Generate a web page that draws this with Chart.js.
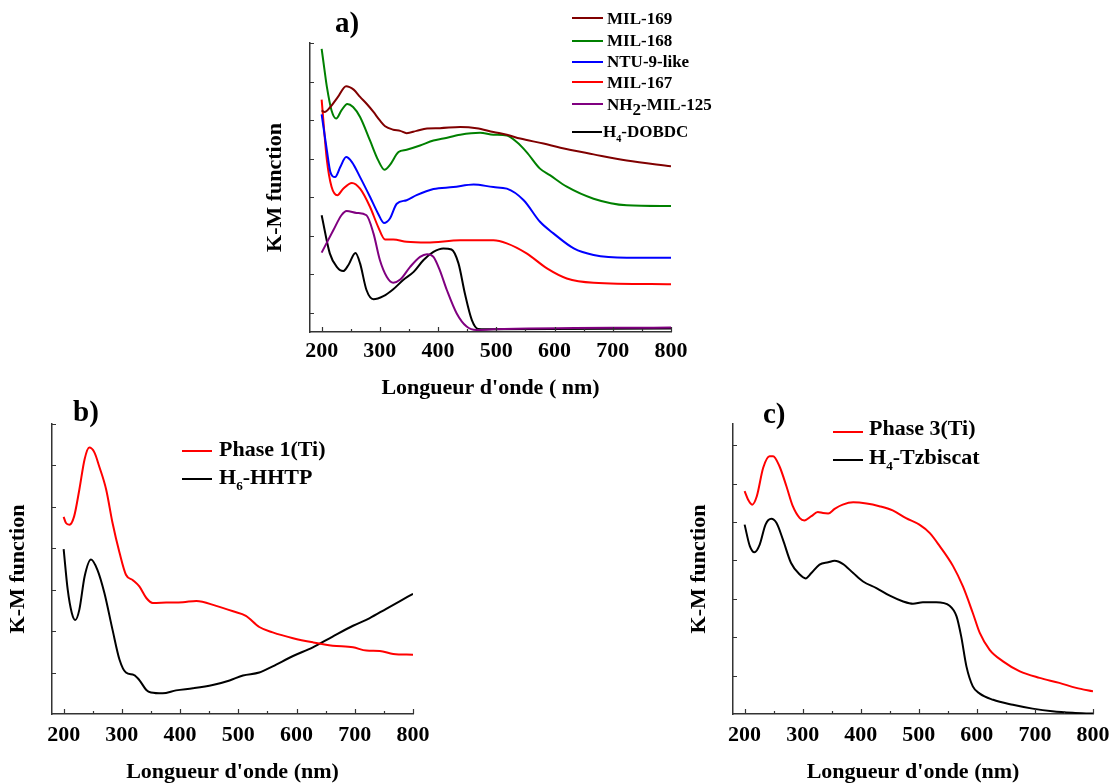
<!DOCTYPE html>
<html>
<head>
<meta charset="utf-8">
<script src="https://cdn.jsdelivr.net/npm/chart.js@4.4.1/dist/chart.umd.min.js"></script>
<style>
  body { margin: 0; width: 1111px; height: 783px; background: #fff; position: relative; overflow: hidden;
         font-family: "Liberation Serif", "Times New Roman", serif; font-weight: bold; color: #000; }
  canvas { position: absolute; }
  .txt { position: absolute; line-height: 1; white-space: nowrap; }
  .key { position: absolute; height: 2px; }
  sub { font-size: 0.6em; vertical-align: -0.45em; line-height: 0; }
</style>
</head>
<body>
<canvas id="chartA" width="440" height="400" style="left:250px;top:0"></canvas>
<canvas id="chartB" width="440" height="393" style="left:0;top:390px"></canvas>
<canvas id="chartC" width="431" height="393" style="left:680px;top:390px"></canvas>

<!-- panel letters -->
<div class="txt" style="font-size:29px;left:335px;top:8px">a)</div>
<div class="txt" style="font-size:29px;left:73px;top:397px">b)</div>
<div class="txt" style="font-size:29px;left:763px;top:399px">c)</div>

<!-- legend a -->
<div class="key" style="left:572px;top:17px;width:31px;background:#800000"></div>
<div class="txt" style="font-size:17px;left:607px;top:10px">MIL-169</div>
<div class="key" style="left:572px;top:40px;width:31px;background:#008000"></div>
<div class="txt" style="font-size:17px;left:607px;top:32px">MIL-168</div>
<div class="key" style="left:572px;top:61px;width:31px;background:#0000ff"></div>
<div class="txt" style="font-size:17px;left:607px;top:53px">NTU-9-like</div>
<div class="key" style="left:572px;top:81px;width:31px;background:#ff0000"></div>
<div class="txt" style="font-size:17px;left:607px;top:74px">MIL-167</div>
<div class="key" style="left:572px;top:103px;width:31px;background:#800080"></div>
<div class="txt" style="font-size:17px;left:607px;top:96px">NH<sub style="font-size:1em;vertical-align:-5px">2</sub>-MIL-125</div>
<div class="key" style="left:572px;top:131px;width:30px;background:#000"></div>
<div class="txt" style="font-size:17px;left:603px;top:123px">H<sub>4</sub>-DOBDC</div>

<!-- legend b -->
<div class="key" style="left:182px;top:450px;width:30px;background:#ff0000"></div>
<div class="txt" style="font-size:22px;left:219px;top:438px">Phase 1(Ti)</div>
<div class="key" style="left:182px;top:478px;width:30px;background:#000"></div>
<div class="txt" style="font-size:22px;left:219px;top:466px">H<sub>6</sub>-HHTP</div>

<!-- legend c -->
<div class="key" style="left:833px;top:431px;width:30px;background:#ff0000"></div>
<div class="txt" style="font-size:22px;left:869px;top:417px">Phase 3(Ti)</div>
<div class="key" style="left:833px;top:459px;width:30px;background:#000"></div>
<div class="txt" style="font-size:22px;left:869px;top:446px">H<sub>4</sub>-Tzbiscat</div>

<script>
// tick values shared by the three panels
const xTicks = [200, 300, 400, 500, 600, 700, 800];
const xMinor = [250, 350, 450, 550, 650, 750];
const yTicksA = [0, 1, 2, 3, 4, 5, 6, 7];
const yTicksB = [1, 2, 3, 4, 5, 6, 7];
const yTicksC = [1, 2, 3, 4, 5, 6, 7];

// panel a) - offset curves
const waveA169 = [200, 205, 215, 228, 242, 255, 266, 278, 289, 300, 309, 323, 335, 346, 363, 381, 403, 438, 466, 495, 518, 541, 581, 610, 667, 724, 800];
const kmA169 = [5.25, 5.21, 5.34, 5.60, 5.88, 5.79, 5.60, 5.41, 5.21, 4.99, 4.84, 4.75, 4.72, 4.66, 4.72, 4.78, 4.79, 4.82, 4.79, 4.69, 4.62, 4.52, 4.39, 4.28, 4.11, 3.95, 3.80];

const waveA168 = [200, 205, 209, 217, 225, 234, 244, 254, 266, 283, 297, 308, 317, 332, 346, 369, 392, 409, 438, 472, 495, 518, 535, 552, 575, 592, 621, 667, 724, 800];
const kmA168 = [6.85, 6.29, 5.86, 5.25, 5.04, 5.25, 5.42, 5.34, 5.08, 4.47, 3.96, 3.71, 3.83, 4.17, 4.23, 4.34, 4.47, 4.52, 4.62, 4.67, 4.62, 4.60, 4.43, 4.17, 3.74, 3.57, 3.27, 2.96, 2.79, 2.77];

const waveNtu = [200, 209, 215, 223, 232, 242, 252, 266, 283, 297, 307, 317, 329, 346, 363, 392, 426, 461, 495, 518, 547, 575, 598, 633, 667, 724, 800];
const kmNtu = [5.15, 4.21, 3.65, 3.52, 3.78, 4.04, 3.91, 3.52, 3.01, 2.57, 2.33, 2.44, 2.83, 2.92, 3.05, 3.21, 3.26, 3.33, 3.26, 3.22, 2.92, 2.36, 2.06, 1.67, 1.50, 1.43, 1.43];

const waveA167 = [200, 209, 217, 227, 237, 252, 266, 283, 297, 309, 323, 346, 381, 438, 495, 518, 552, 587, 621, 667, 800];
const kmA167 = [5.53, 3.96, 3.27, 3.05, 3.22, 3.37, 3.22, 2.75, 2.23, 1.90, 1.90, 1.84, 1.82, 1.88, 1.88, 1.80, 1.54, 1.15, 0.89, 0.78, 0.74];

const waveNh2 = [200, 220, 234, 243, 260, 277, 289, 300, 312, 323, 335, 352, 369, 381, 392, 403, 415, 432, 449, 466, 495, 800];
const kmNh2 = [1.56, 2.14, 2.53, 2.64, 2.59, 2.53, 2.06, 1.37, 0.93, 0.78, 0.86, 1.19, 1.45, 1.52, 1.45, 1.10, 0.59, -0.02, -0.36, -0.45, -0.43, -0.38];

const waveDobdc = [200, 214, 226, 237, 246, 258, 266, 277, 289, 306, 323, 340, 358, 375, 392, 409, 423, 435, 446, 458, 469, 495, 800];
const kmDobdc = [2.53, 1.54, 1.19, 1.08, 1.24, 1.55, 1.28, 0.59, 0.35, 0.43, 0.61, 0.85, 1.06, 1.37, 1.58, 1.67, 1.64, 1.28, 0.50, -0.19, -0.42, -0.43, -0.41];

// panel b)
const wavePhase1 = [200, 204, 210, 218, 227, 236, 244, 253, 261, 273, 284, 296, 307, 319, 330, 342, 353, 376, 405, 428, 462, 491, 513, 536, 559, 594, 628, 662, 697, 720, 743, 766, 800];
const kmPhase1 = [4.76, 4.61, 4.57, 4.77, 5.42, 6.15, 6.43, 6.31, 5.98, 5.42, 4.61, 3.89, 3.36, 3.23, 3.08, 2.80, 2.68, 2.69, 2.70, 2.73, 2.61, 2.48, 2.37, 2.10, 1.97, 1.83, 1.73, 1.65, 1.61, 1.53, 1.52, 1.45, 1.43];

const waveHhtp = [200, 207, 214, 220, 227, 236, 247, 258, 270, 284, 296, 307, 321, 330, 342, 350, 370, 393, 422, 456, 485, 508, 536, 559, 594, 628, 662, 697, 725, 754, 777, 800];
const kmHhtp = [3.98, 3.00, 2.44, 2.27, 2.52, 3.32, 3.73, 3.48, 2.92, 2.03, 1.31, 1.00, 0.94, 0.82, 0.58, 0.52, 0.50, 0.57, 0.62, 0.70, 0.81, 0.93, 1.00, 1.15, 1.40, 1.61, 1.87, 2.13, 2.31, 2.54, 2.72, 2.90];

// panel c)
const wavePhase3 = [200, 206, 213, 221, 232, 243, 249, 260, 272, 283, 295, 303, 315, 326, 335, 344, 355, 369, 387, 410, 432, 455, 478, 501, 519, 536, 559, 576, 593, 605, 622, 645, 674, 708, 742, 771, 800];
const kmPhase3 = [5.80, 5.58, 5.45, 5.67, 6.41, 6.71, 6.71, 6.45, 5.93, 5.41, 5.10, 5.04, 5.15, 5.26, 5.23, 5.22, 5.34, 5.45, 5.51, 5.48, 5.41, 5.30, 5.10, 4.93, 4.71, 4.37, 3.85, 3.32, 2.63, 2.11, 1.67, 1.37, 1.11, 0.94, 0.81, 0.68, 0.59];

const waveTzb = [200, 209, 217, 226, 236, 246, 255, 266, 280, 295, 305, 315, 329, 344, 355, 369, 387, 404, 427, 450, 473, 490, 507, 530, 553, 565, 573, 582, 593, 605, 628, 662, 696, 730, 765, 800];
const kmTzb = [4.93, 4.37, 4.21, 4.41, 4.93, 5.08, 4.97, 4.54, 3.93, 3.63, 3.53, 3.67, 3.89, 3.95, 3.99, 3.91, 3.67, 3.45, 3.28, 3.08, 2.93, 2.87, 2.91, 2.91, 2.82, 2.54, 2.02, 1.24, 0.72, 0.53, 0.37, 0.24, 0.14, 0.07, 0.03, 0.01];

const serif = "'Liberation Serif', 'Times New Roman', serif";
const axisColor = '#333';

function pts(xs, ys) {
    return xs.map((x, i) => ({ x: x, y: ys[i] }));
}

function curve(label, xs, ys, color) {
    return {
        label: label,
        data: pts(xs, ys),
        borderColor: color,
        borderWidth: 2,
        pointRadius: 0,
        fill: false,
        cubicInterpolationMode: 'monotone'
    };
}

// small tick marks pointing into the plot, like the original software draws them
const innerTicks = {
    id: 'innerTicks',
    afterDraw(chart, args, opts) {
        const ctx = chart.ctx;
        const xs = chart.scales.x, ys = chart.scales.y;
        const area = chart.chartArea;
        ctx.save();
        ctx.strokeStyle = axisColor;
        ctx.lineWidth = 1.2;
        ctx.beginPath();
        xTicks.forEach(v => {
            const px = Math.round(xs.getPixelForValue(v)) + 0.5;
            ctx.moveTo(px, area.bottom);
            ctx.lineTo(px, area.bottom - 5);
        });
        xMinor.forEach(v => {
            const px = Math.round(xs.getPixelForValue(v)) + 0.5;
            ctx.moveTo(px, area.bottom);
            ctx.lineTo(px, area.bottom - 3);
        });
        opts.yTicks.forEach(v => {
            const py = Math.round(ys.getPixelForValue(v)) + 0.5;
            ctx.moveTo(area.left, py);
            ctx.lineTo(area.left + 4, py);
        });
        ctx.stroke();
        ctx.restore();
    }
};

function makeChart(id, datasets, cfg) {
    const font = { family: serif, size: 22, weight: 'bold', lineHeight: 1 };
    // tick labels are pushed down with lineHeight (padding would also widen the side margins)
    const tickFont = { family: serif, size: 22, weight: 'bold', lineHeight: cfg.tickLine };
    return new Chart(document.getElementById(id), {
        type: 'line',
        data: { datasets: datasets },
        plugins: [innerTicks],
        options: {
            responsive: false,
            animation: false,
            devicePixelRatio: 1,
            events: [],
            layout: { padding: cfg.padding },
            plugins: {
                legend: { display: false },
                tooltip: { enabled: false },
                innerTicks: { yTicks: cfg.yTicks }
            },
            scales: {
                x: {
                    type: 'linear',
                    min: 180,
                    max: 800,
                    afterBuildTicks: s => { s.ticks = xTicks.map(v => ({ value: v })); },
                    afterFit: s => { s.height = cfg.xHeight; },
                    grid: { display: false, drawTicks: false },
                    border: { display: true, color: axisColor, width: 1.5 },
                    ticks: { color: '#000', padding: 0, autoSkip: false, maxRotation: 0, font: tickFont },
                    title: { display: true, text: cfg.xTitle, color: '#000', padding: { top: 0, bottom: cfg.xTitlePad }, font: font }
                },
                y: {
                    min: cfg.yMin,
                    max: cfg.yMax,
                    afterFit: s => { s.width = cfg.yWidth; },
                    grid: { display: false, drawTicks: false },
                    border: { display: true, color: axisColor, width: 1.5 },
                    ticks: { display: false },
                    title: { display: true, text: 'K-M function', color: '#000', padding: { top: cfg.yTitlePad, bottom: 0 }, font: font }
                }
            }
        }
    });
}

makeChart('chartA', [
    curve('MIL-169', waveA169, kmA169, '#800000'),
    curve('MIL-168', waveA168, kmA168, '#008000'),
    curve('NTU-9-like', waveNtu, kmNtu, '#0000ff'),
    curve('MIL-167', waveA167, kmA167, '#ff0000'),
    curve('NH2-MIL-125', waveNh2, kmNh2, '#800080'),
    curve('H4-DOBDC', waveDobdc, kmDobdc, '#000000')
], {
    padding: { top: 43, right: 19, bottom: 0, left: 0 },
    yMin: -0.5, yMax: 7, yTicks: yTicksA,
    yWidth: 60, xHeight: 68, tickLine: 1.79, xTitlePad: 1, yTitlePad: 14,
    xTitle: "Longueur d'onde ( nm)"
});

makeChart('chartB', [
    curve('Phase 1(Ti)', wavePhase1, kmPhase1, '#ff0000'),
    curve('H6-HHTP', waveHhtp, kmHhtp, '#000000')
], {
    padding: { top: 34, right: 27, bottom: 0, left: 0 },
    yMin: 0, yMax: 7, yTicks: yTicksB,
    yWidth: 52, xHeight: 69, tickLine: 1.91, xTitlePad: 0, yTitlePad: 7,
    xTitle: "Longueur d'onde (nm)"
});

makeChart('chartC', [
    curve('Phase 3(Ti)', wavePhase3, kmPhase3, '#ff0000'),
    curve('H4-Tzbiscat', waveTzb, kmTzb, '#000000')
], {
    padding: { top: 34, right: 18, bottom: 0, left: 0 },
    yMin: 0, yMax: 7.55, yTicks: yTicksC,
    yWidth: 53, xHeight: 69, tickLine: 1.91, xTitlePad: 0, yTitlePad: 8,
    xTitle: "Longueur d'onde (nm)"
});
</script>
</body>
</html>
